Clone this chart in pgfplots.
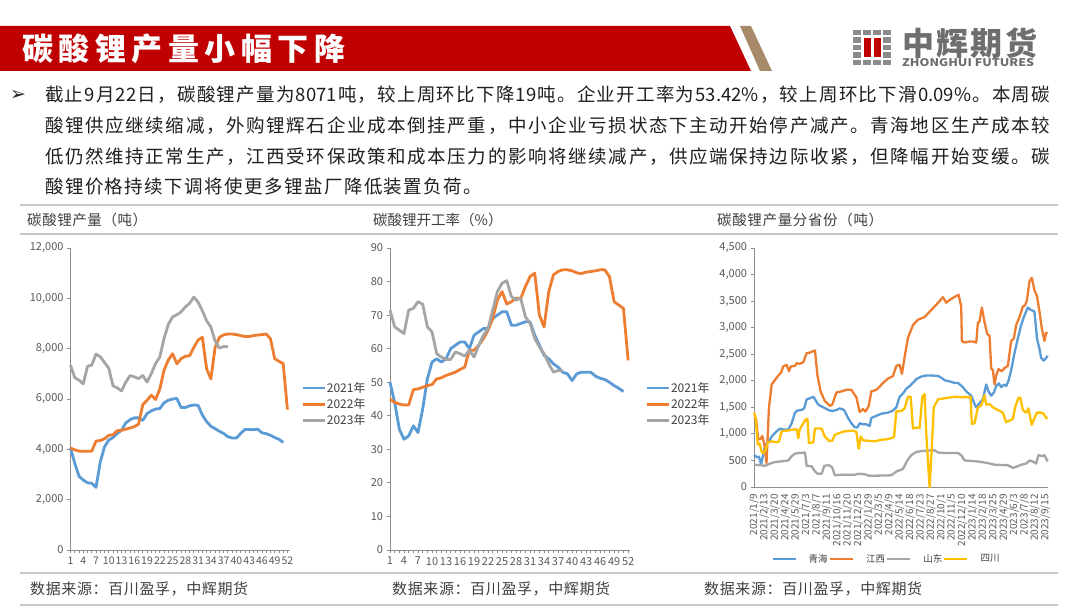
\documentclass[border=0pt]{standalone}
\usepackage{fontspec}
\setmainfont{Noto Sans CJK SC}
\newfontfamily\dejavu{DejaVu Sans}
\usepackage{pgfplots}
\pgfplotsset{compat=1.18}
% inter-character glue for CJK so lines can be justified
\XeTeXinterchartokenstate=1
\count255="3000
\loop\ifnum\count255<"3040 \XeTeXcharclass\count255=9 \advance\count255 by 1 \repeat
\count255="4E00
\loop\ifnum\count255<"A000 \XeTeXcharclass\count255=9 \advance\count255 by 1 \repeat
\count255="FF00
\loop\ifnum\count255<"FF60 \XeTeXcharclass\count255=9 \advance\count255 by 1 \repeat
\XeTeXinterchartoks 9 9 = {\hskip0pt plus 1fil\relax}
\XeTeXinterchartoks 0 9 = {\hskip0pt plus 1fil\relax}
\XeTeXinterchartoks 9 0 = {\hskip0pt plus 1fil\relax}

\definecolor{qblue}{HTML}{5B9BD5}
\definecolor{qorange}{HTML}{ED7D31}
\definecolor{qgrey}{HTML}{A5A5A5}
\definecolor{qyellow}{HTML}{FFC000}
\definecolor{hdrred}{HTML}{C00000}
\definecolor{tanc}{HTML}{A78A6A}
\definecolor{rulec}{HTML}{C8C8C8}
\definecolor{txt}{HTML}{404040}
\definecolor{tickc}{HTML}{595959}
\definecolor{axisc}{HTML}{8C8C8C}
\definecolor{logogrey}{HTML}{6E6E6E}

\pgfplotsset{pan/.style={scale only axis, axis lines*=left, clip=false,
  scaled ticks=false,
  axis line style={axisc,line width=0.9pt}, tick style={axisc,line width=0.8pt},
  tick align=outside, major tick length=3.5pt, minor tick length=3.5pt,
  ticklabel style={font=\fontsize{11}{11}\selectfont, text=tickc},
  /pgf/number format/1000 sep={,}, /pgf/number format/assume math mode=true,
  legend cell align=left,
  legend image code/.code={\draw[##1] (0pt,0pt) -- (22pt,0pt);}}}

\begin{document}
\begin{tikzpicture}[x=1pt,y=1pt]
\path[use as bounding box, fill=white] (0,0) rectangle (1080,608);
% header
\fill[hdrred] (0,582) -- (730,582) -- (751,537) -- (0,537) -- cycle;
\fill[tanc] (740,582) -- (751,582) -- (772,537) -- (760,537) -- cycle;
\node[anchor=west, inner sep=0pt, text=white] at (22,559.5) {\makebox[323pt][s]{\fontsize{31}{31}\selectfont\bfseries 碳酸锂产量小幅下降}};
% logo
\foreach \cx in {853,863,873,883}{\foreach \cy in {30,37.5,45,52.5,60}{\fill[logogrey!80] (\cx,608-\cy) rectangle (\cx+7.5,608-\cy-5.5);}}
\fill[white] (862,608-37) rectangle (882,608-58.5);
\fill[hdrred] (863.5,608-38) rectangle (870.5,608-57.5);
\fill[hdrred] (873.5,608-38) rectangle (880.5,608-57.5);
\node[anchor=west, inner sep=0pt, text=logogrey] at (902,608-43.5) {\makebox[135pt][s]{\fontsize{32}{32}\selectfont\bfseries 中辉期货}};
\node[anchor=west, inner sep=0pt, text=logogrey] at (902,608-63) {\resizebox{132pt}{8pt}{\bfseries ZHONGHUI FUTURES}};
% bullet text
\node[anchor=center, inner sep=0pt, text=black!85] at (18,608-95) {\dejavu\fontsize{19}{19}\selectfont ➢};
\begin{scope}[every node/.style={anchor=west, inner sep=0pt, text=black!88}]
\node at (45,608-95) {\makebox[1005pt][s]{\fontsize{18.5}{20}\selectfont 截止9月22日，碳酸锂产量为8071吨，较上周环比下降19吨。企业开工率为53.42\%，较上周环比下滑0.09\%。本周碳}};
\node at (45,608-126) {\makebox[1005pt][s]{\fontsize{18.5}{20}\selectfont 酸锂供应继续缩减，外购锂辉石企业成本倒挂严重，中小企业亏损状态下主动开始停产减产。青海地区生产成本较}};
\node at (45,608-157) {\makebox[1005pt][s]{\fontsize{18.5}{20}\selectfont 低仍然维持正常生产，江西受环保政策和成本压力的影响将继续减产，供应端保持边际收紧，但降幅开始变缓。碳}};
\node at (45,608-187) {\makebox[437pt][s]{\fontsize{18.5}{20}\selectfont 酸锂价格持续下调将使更多锂盐厂降低装置负荷。}};
\end{scope}
% panel rules
\foreach \yy in {205,234,573,605}{\draw[rulec, line width=1.6pt] (20,608-\yy) -- (1058,608-\yy);}
\begin{scope}[every node/.style={anchor=west, inner sep=0pt, text=txt}]
\node at (27,608-220) {\makebox[120pt][s]{\fontsize{14.5}{15}\selectfont 碳酸锂产量（吨）}};
\node at (373,608-220) {\makebox[124pt][s]{\fontsize{14.5}{15}\selectfont 碳酸锂开工率（\%）}};
\node at (717,608-220) {\makebox[166pt][s]{\fontsize{14.5}{15}\selectfont 碳酸锂产量分省份（吨）}};
\node at (30,608-589) {\makebox[218pt][s]{\fontsize{15}{15}\selectfont 数据来源：百川盈孚，中辉期货}};
\node at (392,608-589) {\makebox[218pt][s]{\fontsize{15}{15}\selectfont 数据来源：百川盈孚，中辉期货}};
\node at (704,608-589) {\makebox[218pt][s]{\fontsize{15}{15}\selectfont 数据来源：百川盈孚，中辉期货}};
\end{scope}

% chart 1
\begin{axis}[pan, at={(70.5pt,58pt)}, anchor=south west, width=219.5pt, height=302pt,
  xmin=1, xmax=52.6, ymin=0, ymax=12000,
  ytick={0,2000,...,12000}, xtick={1,4,...,52}, minor xtick={1,...,52},
  xticklabel style={font=\fontsize{10.5}{10.5}\selectfont},
  legend style={draw=none, fill=none, at={(1.036,0.483)}, anchor=west,
    font=\fontsize{12}{12}\selectfont, text=txt, row sep=2.5pt, nodes={inner sep=1pt}}]
\addplot[qblue, line width=2.8pt, line join=round] coordinates {(1,4050)(2,3450)(3,2930)(4,2780)(5,2670)(6,2650)(7,2490)(8,3500)(9,4100)(10,4370)(11,4470)(12,4630)(13,4760)(14,5050)(15,5180)(16,5250)(17,5250)(18,5150)(19,5420)(20,5530)(21,5600)(22,5620)(23,5850)(24,5950)(25,6000)(26,6020)(27,5660)(28,5660)(29,5730)(30,5760)(31,5750)(32,5360)(33,5100)(34,4920)(35,4820)(36,4720)(37,4630)(38,4500)(39,4450)(40,4450)(41,4630)(42,4790)(43,4790)(44,4780)(45,4800)(46,4660)(47,4620)(48,4560)(49,4470)(50,4400)(51,4270)};
\addlegendentry{2021年}
\addplot[qorange, line width=2.8pt, line join=round] coordinates {(1,4050)(2,3980)(3,3930)(4,3920)(5,3920)(6,3930)(7,4330)(8,4350)(9,4420)(10,4560)(11,4580)(12,4740)(13,4760)(14,4800)(15,4850)(16,4900)(17,5000)(18,5780)(19,5950)(20,6150)(21,5980)(22,6400)(23,7150)(24,7550)(25,7800)(26,7400)(27,7600)(28,7700)(29,7720)(30,8050)(31,8350)(32,8450)(33,7200)(34,6800)(35,8050)(36,8450)(37,8550)(38,8580)(39,8580)(40,8560)(41,8520)(42,8480)(43,8480)(44,8520)(45,8540)(46,8560)(47,8580)(48,8400)(49,7600)(50,7500)(51,7400)(52,5580)};
\addlegendentry{2022年}
\addplot[qgrey, line width=2.8pt, line join=round] coordinates {(1,7350)(2,6850)(3,6750)(4,6600)(5,7300)(6,7350)(7,7780)(8,7680)(9,7450)(10,7220)(11,6520)(12,6440)(13,6320)(14,6670)(15,6930)(16,6880)(17,6810)(18,6930)(19,6670)(20,7010)(21,7410)(22,7670)(23,8410)(24,8970)(25,9260)(26,9350)(27,9460)(28,9660)(29,9800)(30,10050)(31,9850)(32,9510)(33,9110)(34,8860)(35,8300)(36,8020)(37,8090)(38,8071)};
\addlegendentry{2023年}
\end{axis}

% chart 2
\begin{axis}[pan, at={(390pt,58pt)}, anchor=south west, width=240pt, height=302pt,
  xmin=1, xmax=52.4, ymin=0, ymax=90,
  ytick={0,10,...,90}, xtick={1,4,...,52}, minor xtick={1,...,52},
  xticklabel style={font=\fontsize{11}{11}\selectfont},
  legend style={draw=none, fill=none, at={(1.05,0.483)}, anchor=west,
    font=\fontsize{12}{12}\selectfont, text=txt, row sep=2.5pt, nodes={inner sep=1pt}}]
\addplot[qblue, line width=2.8pt, line join=round] coordinates {(1,50)(2,44)(3,36)(4,33)(5,34)(6,37)(7,35)(8,42)(9,51)(10,56)(11,57)(12,56)(13,57)(14,60)(15,61)(16,62)(17,62)(18,60)(19,64)(20,65)(21,66)(22,66)(23,69)(24,70)(25,71)(26,71)(27,67)(28,67)(29,67.5)(30,68)(31,68)(32,64)(33,61)(34,58)(35,57)(36,55.5)(37,54.5)(38,53)(39,52.5)(40,50.5)(41,52.5)(42,53)(43,53)(44,53)(45,51.8)(46,51.2)(47,50.8)(48,50)(49,49)(50,48.2)(51,47.2)};
\addlegendentry{2021年}
\addplot[qorange, line width=2.8pt, line join=round] coordinates {(1,45)(2,44)(3,43.5)(4,43.2)(5,43.2)(6,47.8)(7,48)(8,48.5)(9,49)(10,49.3)(11,51)(12,51.3)(13,52)(14,52.5)(15,53)(16,53.8)(17,54.5)(18,59.5)(19,59.5)(20,61)(21,63)(22,65.5)(23,69)(24,74.5)(25,77)(26,73.3)(27,74)(28,75)(29,75)(30,78.5)(31,81.5)(32,82.5)(33,70)(34,66.5)(35,77)(36,82)(37,83)(38,83.5)(39,83.5)(40,83.2)(41,82.6)(42,82.4)(43,82.8)(44,83)(45,83.2)(46,83.5)(47,83.5)(48,81.5)(49,74)(50,73)(51,72)(52,56.5)};
\addlegendentry{2022年}
\addplot[qgrey, line width=2.8pt, line join=round] coordinates {(1,71.5)(2,66.5)(3,65.5)(4,64.5)(5,71.5)(6,72)(7,74)(8,73.3)(9,66.5)(10,65)(11,58.5)(12,57.5)(13,56.8)(14,56.8)(15,59)(16,58.5)(17,57.8)(18,59.5)(19,57.5)(20,61)(21,64)(22,66)(23,71.5)(24,77)(25,79.5)(26,80.3)(27,75.5)(28,74.5)(29,75)(30,69.5)(31,67.5)(32,63)(33,60.5)(34,58.5)(35,55.5)(36,53)(37,53.51)(38,53.42)};
\addlegendentry{2023年}
\end{axis}

% chart 3
\begin{axis}[pan, at={(754pt,121pt)}, anchor=south west, width=294pt, height=239pt,
  xmin=0, xmax=141.3, ymin=0, ymax=4500,
  ytick={0,500,...,4500}, xtick={0,5,...,140}, x tick style={draw=none},
  xticklabels={2021/1/9,2021/2/13,2021/3/20,2021/4/24,2021/5/29,2021/7/3,2021/8/7,2021/9/11,2021/10/16,2021/11/20,2021/12/25,2022/1/29,2022/3/5,2022/4/9,2022/5/14,2022/6/18,2022/7/23,2022/8/27,2022/10/1,2022/11/5,2022/12/10,2023/1/14,2023/2/18,2023/3/25,2023/4/29,2023/6/3,2023/7/8,2023/8/12,2023/9/15},
  xticklabel style={rotate=90, anchor=east, font=\fontsize{10}{10}\selectfont},
  legend columns=4,
  legend image code/.code={\draw[#1] (0pt,0pt) -- (23pt,0pt);},
  legend style={draw=none, fill=none, at={(0.449,-0.301)}, anchor=center,
    font=\fontsize{9.5}{9.5}\selectfont, text=txt, nodes={inner sep=1pt},
    /tikz/every odd column/.append style={column sep=11pt}}]
\addplot[qblue, line width=2.3pt, line join=round] coordinates {(0,600)(1.5,560)(2.4,570)(3.4,425)(4.5,620)(5.5,800)(7,850)(8.5,950)(10.9,1050)(12.5,1100)(14.1,1080)(16.5,1080)(18.1,1200)(19.7,1400)(20.9,1440)(22.9,1450)(24.1,1480)(25.3,1650)(26.9,1670)(28.5,1700)(29.3,1650)(30.9,1550)(33.3,1500)(35.7,1450)(37.6,1430)(39.6,1450)(41.2,1480)(42.8,1460)(43.6,1430)(45.2,1300)(46.8,1200)(48.4,1125)(49.7,1120)(50.8,1200)(52.4,1180)(54,1180)(55.6,1150)(56.4,1300)(58.8,1340)(61.2,1380)(64.4,1400)(66.8,1440)(68.4,1500)(70,1700)(71.6,1760)(73.2,1850)(74.8,1900)(76.4,1960)(78,2030)(80.4,2080)(82.8,2100)(85.2,2100)(88.4,2090)(90,2060)(91.6,2010)(94.8,1980)(96.4,1960)(98,1960)(100.4,1880)(102,1800)(104.4,1720)(106,1560)(106.8,1500)(108.4,1580)(110,1650)(111.6,1930)(112.7,1800)(114,1720)(115.3,1780)(116.4,1900)(117.7,1950)(118.8,1880)(120.1,1930)(121.2,1900)(122.3,2000)(123.6,2200)(125.2,2520)(126.8,2800)(128.4,3050)(130,3230)(131.6,3380)(132.8,3340)(134,3320)(134.8,3300)(136,2800)(137.2,2600)(138,2430)(139.2,2380)(140.4,2430)(141.1,2470)};
\addlegendentry{青海}
\addplot[qorange, line width=2.3pt, line join=round] coordinates {(0,1300)(1,1280)(2,900)(3,900)(4,960)(5,800)(6,450)(7.2,1500)(8.5,1930)(10,2010)(11.7,2100)(13,2150)(14,2270)(15.7,2300)(16.8,2180)(17.7,2270)(19.7,2280)(20.5,2330)(22,2320)(23.7,2350)(25.3,2520)(26.9,2530)(28.5,2560)(29.3,2570)(30.5,2100)(32,1800)(34,1620)(36.5,1530)(37.6,1550)(39.6,1780)(42,1800)(44.4,1830)(46.8,1830)(49.2,1690)(50.8,1410)(52.4,1470)(53.5,1420)(55.1,1520)(56.4,1800)(58.8,1830)(60.4,1890)(62,1960)(64.4,2040)(66.8,2090)(68.4,2280)(70,2300)(71.1,2130)(72.4,2450)(74,2810)(76.4,3050)(78.8,3150)(82,3200)(84.4,3300)(86.8,3400)(89.2,3500)(90.8,3575)(92.4,3470)(94,3520)(96.4,3580)(98.3,3620)(99.6,3400)(99.9,2750)(101.2,2720)(103.6,2740)(105.2,2740)(106.8,2720)(107.6,3090)(108.4,3120)(109.5,3380)(110.8,3100)(112.1,2880)(113.2,2850)(114,2230)(114.8,2200)(115.6,1930)(116.4,2100)(117.5,2220)(119.1,2180)(120.4,2240)(122,2280)(123.6,2750)(124.9,2800)(126,3050)(127.6,3200)(129.2,3400)(130.3,3420)(131.2,3520)(132.4,3870)(133.5,3940)(134.8,3700)(136,3600)(137.2,3300)(138.3,2990)(139.6,2750)(140.4,2900)(141.1,2910)};
\addlegendentry{江西}
\addplot[qgrey, line width=2.3pt, line join=round] coordinates {(0,420)(2.9,410)(5.3,400)(7.7,440)(10,470)(12.5,480)(14.9,490)(16.5,500)(18.1,580)(19.7,630)(22,640)(24.5,650)(25.3,400)(27.7,390)(29,310)(30.5,250)(32.5,250)(33.8,400)(36,410)(37.6,370)(38.8,220)(41.2,230)(48.4,230)(50,250)(53.2,240)(55.6,210)(66,220)(68.4,290)(71.6,340)(73.7,500)(75.6,600)(78,660)(81.2,680)(86.8,690)(88.4,650)(91.6,640)(98,640)(99.6,600)(101.2,500)(107.6,480)(112.4,450)(115.6,420)(122,410)(124.4,360)(126,380)(128.4,420)(130.8,440)(132.4,500)(134.5,470)(135.6,440)(136.7,600)(138.8,580)(139.6,600)(141.1,480)};
\addlegendentry{山东}
\addplot[qyellow, line width=2.3pt, line join=round] coordinates {(0,1400)(0.8,1300)(1.8,800)(2.7,820)(3.7,656)(4.6,640)(5.6,700)(6.6,840)(8.5,860)(10.9,840)(12,860)(13.3,1050)(15.7,1060)(18.9,1080)(20.5,1090)(21.3,920)(22,1090)(23.7,1200)(24.8,1270)(25.7,1280)(26.4,830)(28.5,840)(29.3,1100)(30.9,1100)(32.5,1100)(34,950)(36,870)(37.6,870)(38.8,980)(41.2,1020)(43.6,1050)(47.6,1060)(49.2,1040)(50.3,720)(51.3,950)(52.4,880)(54.8,870)(58,860)(61.2,890)(64.4,900)(67.3,940)(68.4,1425)(70.8,1430)(72.4,1480)(74,1700)(75.3,1700)(76.4,1100)(78,1120)(79.6,1110)(80.9,1700)(82,1750)(82.8,1000)(84.4,0)(85.5,800)(86.4,1500)(88.4,1650)(91.6,1670)(96.4,1700)(99.6,1690)(103.6,1690)(104.1,1700)(104.7,1190)(106,1200)(107.6,1500)(109.2,1530)(110.8,1730)(111.6,1550)(113.2,1560)(114.8,1500)(117.2,1450)(119.6,1400)(121.2,1220)(122.8,1250)(124.4,1280)(125.5,1500)(127.1,1680)(128,1680)(129.2,1450)(130.8,1400)(131.9,1480)(132.8,1300)(133.5,1170)(134.8,1300)(136,1400)(138,1400)(139.2,1380)(140.4,1300)(141.1,1290)};
\addlegendentry{四川}
\end{axis}
\end{tikzpicture}
\end{document}
